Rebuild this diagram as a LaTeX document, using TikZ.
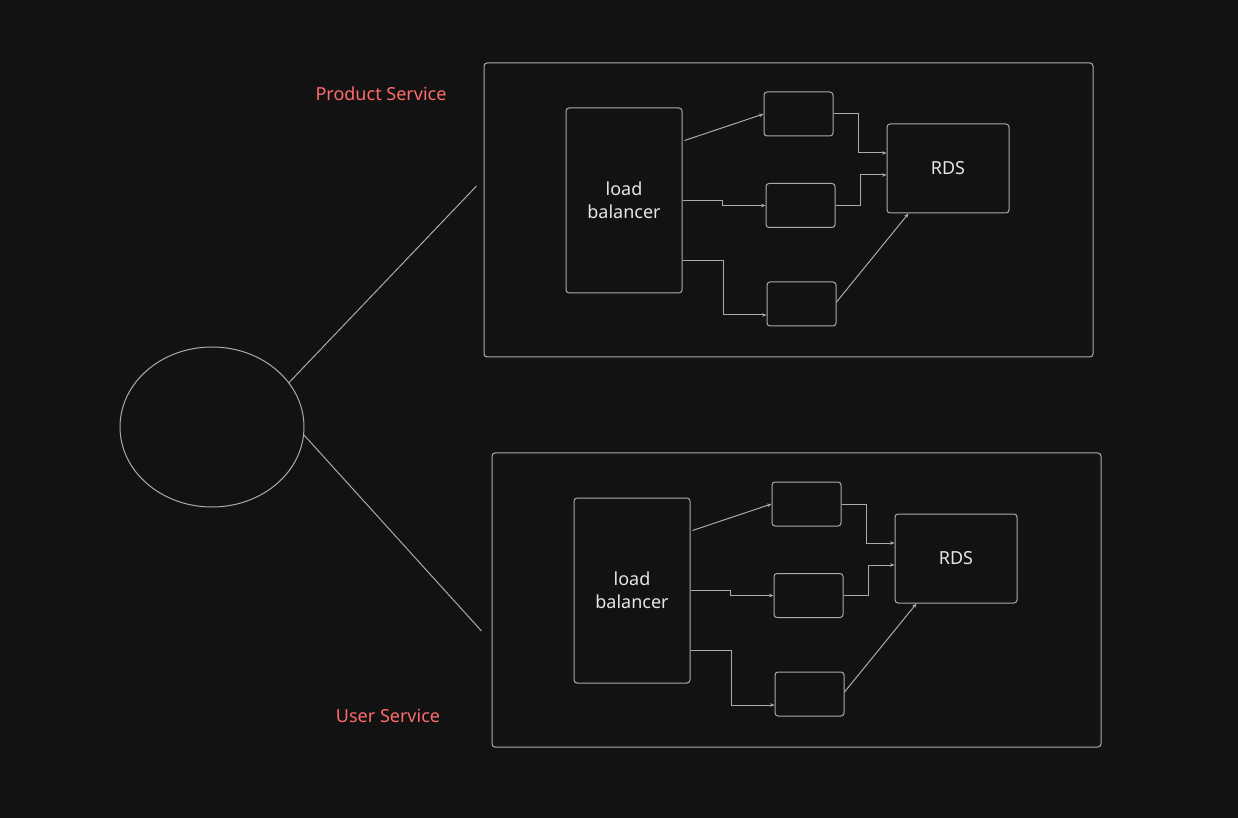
\documentclass[tikz,border=0pt]{standalone}
\usepackage{fontspec}
\setmainfont{Noto Sans}
\usetikzlibrary{shapes.geometric,arrows.meta,calc}

\definecolor{bgdark}{HTML}{121212}
\definecolor{strokegray}{HTML}{ABABAB}
\definecolor{textlight}{HTML}{E6E6E6}
\definecolor{labelred}{HTML}{FF6B6B}

\tikzset{
  box/.style={draw=strokegray, line width=0.5pt, rounded corners=1.5pt,
    inner sep=0pt, text=textlight, align=center,
    font=\fontsize{9}{11.5}\selectfont},
  inst/.style={box, minimum width=34.5pt, minimum height=22pt},
  wire/.style={draw=strokegray, line width=0.5pt, -{Stealth[length=2.2pt,width=1.8pt]}},
  link/.style={draw=strokegray, line width=0.5pt},
  svclabel/.style={text=labelred, font=\fontsize{9}{11}\selectfont},
}

\begin{document}
\begin{tikzpicture}[x=0.5pt,y=-0.5pt]
  \fill[bgdark] (0,0) rectangle (1238,818);
  \useasboundingbox (0,0) rectangle (1238,818);

  % client
  \node[box, ellipse, minimum width=92pt, minimum height=80pt] (client) at (212,427) {};

  % the two services
  \foreach \n/\dx/\dy/\lx/\ly/\name in {prod/0/0/381/94/Product Service, user/8/390/388/716/User Service}{
    \node[svclabel] (\n-label) at (\lx,\ly) {\name};
    \begin{scope}[shift={(\dx,\dy)}]
      \node[box, minimum width=304.5pt, minimum height=147pt] (\n-svc) at (788.5,210) {};
      \node[box, minimum width=58pt, minimum height=92.5pt] (\n-lb) at (624,200.5) {load\\balancer};
      \node[inst] (\n-b1) at (798.5,114) {};
      \node[inst] (\n-b2) at (800.5,205.5) {};
      \node[inst] (\n-b3) at (801.5,304) {};
      \node[box, minimum width=61pt, minimum height=44.5pt] (\n-rds) at (948,168.5) {RDS};

      \draw[wire] ($(\n-lb.east)+(2,-60)$) -- (\n-b1.west);
      \draw[wire] (\n-lb.east) -- ++(40,0) |- (\n-b2.west);
      \draw[wire] ($(\n-lb.east)+(0,60)$) -- ++(41,0) |- ($(\n-b3.west)+(0,11)$);
      \draw[wire] (\n-b1.east) -- ++(25,0) |- ($(\n-rds.west)+(0,-15.5)$);
      \draw[wire] (\n-b2.east) -- ++(25,0) |- ($(\n-rds.west)+(0,6.5)$);
      \draw[wire] ($(\n-b3.east)+(0,-2)$) -- ($(\n-rds.south west)+(22,0)$);
    \end{scope}
  }

  \coordinate (prod-tip) at ($(prod-svc.west)+(-7,-24)$);
  \coordinate (user-tip) at ($(user-svc.west)+(-10,31)$);
  \draw[link] (client.30) -- (prod-tip);
  \draw[link] (client.-5) -- (user-tip);
\end{tikzpicture}
\end{document}
